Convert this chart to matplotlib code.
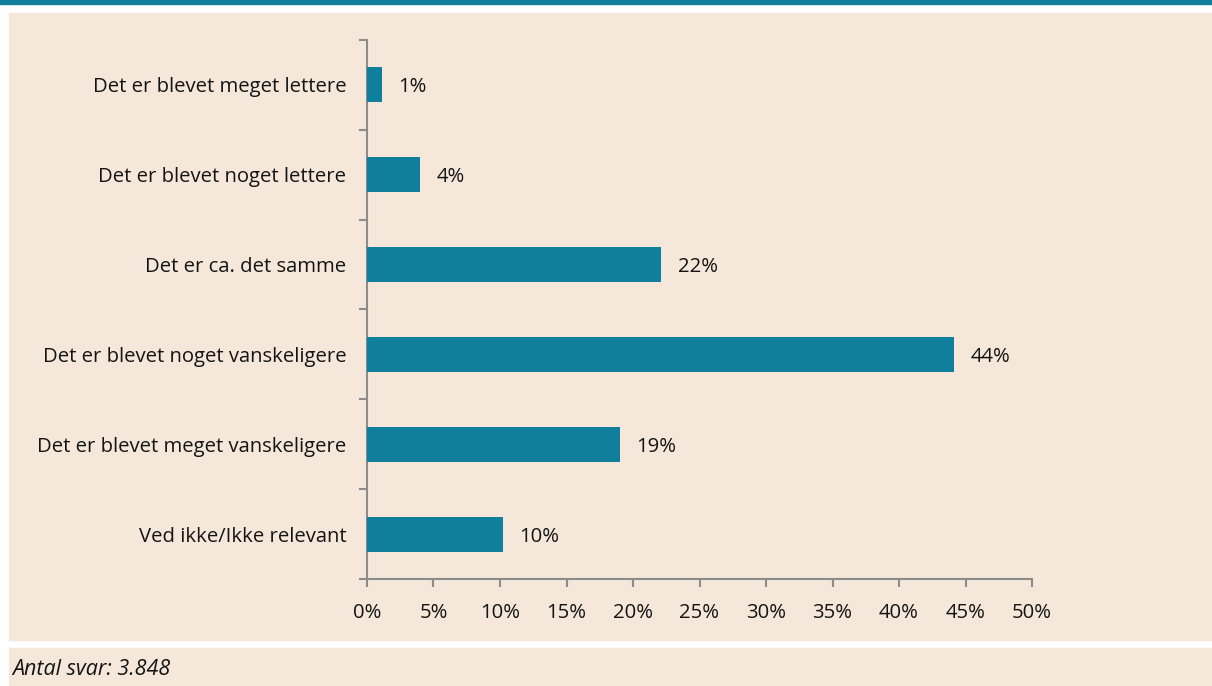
import matplotlib
matplotlib.use("Agg")
import matplotlib.pyplot as plt
from matplotlib.patches import Rectangle
from matplotlib.ticker import FixedLocator, PercentFormatter

plt.rcParams["font.family"] = ["Open Sans", "DejaVu Sans"]

CATEGORIES = [
    "Det er blevet meget lettere",
    "Det er blevet noget lettere",
    "Det er ca. det samme",
    "Det er blevet noget vanskeligere",
    "Det er blevet meget vanskeligere",
    "Ved ikke/Ikke relevant",
]
VALUES = [1.1, 4.0, 22.1, 44.1, 19.0, 10.2]
LABELS = ["1%", "4%", "22%", "44%", "19%", "10%"]
XTICKS = [0, 5, 10, 15, 20, 25, 30, 35, 40, 45, 50]
NOTE = "Antal svar: 3.848"

TEAL = "#107F9C"
BEIGE = "#F5E8DA"
AXIS = "#8C8C8C"
TEXT = "#141414"
FS = 14.6

W, H = 1212, 686
fig = plt.figure(figsize=(W / 100, H / 100), dpi=100, facecolor="white")

# baggrund: topbjaelke, panel og fodnote-boks (pixel -> figure coords)
def box(x0, y0, x1, y1, color):
    fig.patches.append(Rectangle((x0 / W, 1 - y1 / H), (x1 - x0) / W, (y1 - y0) / H,
                                 transform=fig.transFigure, color=color, zorder=-10))

box(0, 0, W, 4, TEAL)
box(9, 13, W, 640, BEIGE)
box(9, 648, W, H, BEIGE)

ax = fig.add_axes([367 / W, 1 - 579 / H, (1032 - 367) / W, (579 - 40) / H])
ax.set_facecolor("none")

ypos = list(range(len(CATEGORIES)))
ax.barh(ypos, VALUES, height=0.39, color=TEAL, zorder=3)
for y, v, lab in zip(ypos, VALUES, LABELS):
    ax.text(v + 1.25, y, lab, va="center_baseline", ha="left", fontsize=FS, color=TEXT)

ax.set_xlim(0, 50)
ax.set_ylim(len(CATEGORIES) - 0.5, -0.5)
ax.set_xticks(XTICKS)
ax.xaxis.set_major_formatter(PercentFormatter(decimals=0))
ax.set_yticks(ypos)
ax.set_yticklabels(CATEGORIES, va="center_baseline")
ax.yaxis.set_minor_locator(FixedLocator([i - 0.5 for i in range(len(CATEGORIES) + 1)]))
ax.tick_params(axis="y", which="major", length=0, pad=15, labelsize=FS, labelcolor=TEXT)
ax.tick_params(axis="y", which="minor", length=5.5, width=1.5, color=AXIS)
ax.tick_params(axis="x", length=5.5, width=1.5, color=AXIS, pad=12, labelsize=FS, labelcolor=TEXT)

for s in ["top", "right"]:
    ax.spines[s].set_visible(False)
for s in ["left", "bottom"]:
    ax.spines[s].set_color(AXIS)
    ax.spines[s].set_linewidth(1.5)

fig.text(12 / W, 1 - 667 / H, NOTE, fontsize=15.5, style="italic", color=TEXT,
         va="center_baseline", ha="left")

fig.savefig("out.png", dpi=100, facecolor="white")
